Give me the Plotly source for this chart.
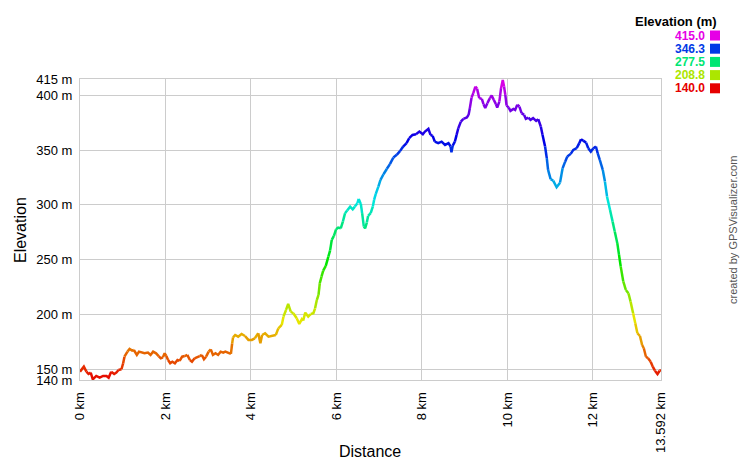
import colorsys
import plotly.graph_objects as go

# ---- data ----
dist_km = [0.00, 0.09, 0.15, 0.20, 0.25, 0.30, 0.38, 0.46, 0.54, 0.62, 0.67, 0.73, 0.80, 0.85, 0.90,
           0.97, 1.01, 1.04, 1.11, 1.16, 1.22, 1.26, 1.33, 1.38, 1.45, 1.51, 1.59, 1.65, 1.71, 1.78,
           1.84, 1.89, 1.94, 1.98, 2.02, 2.06, 2.11, 2.16, 2.22, 2.28, 2.33, 2.39, 2.45, 2.51, 2.57,
           2.62, 2.68, 2.74, 2.80, 2.85, 2.90, 2.95, 3.01, 3.06, 3.11, 3.17, 3.23, 3.29, 3.35, 3.40,
           3.46, 3.53, 3.56, 3.58, 3.63, 3.70, 3.78, 3.86, 3.94, 4.02, 4.09, 4.17, 4.22, 4.26, 4.33,
           4.41, 4.48, 4.58, 4.64, 4.72, 4.76, 4.82, 4.87, 4.93, 4.99, 5.07, 5.13, 5.19, 5.22, 5.27,
           5.34, 5.40, 5.46, 5.50, 5.54, 5.58, 5.61, 5.65, 5.69, 5.75, 5.81, 5.85, 5.89, 5.94, 5.99,
           6.04, 6.10, 6.15, 6.20, 6.25, 6.32, 6.38, 6.43, 6.49, 6.52, 6.57, 6.60, 6.64, 6.67, 6.71,
           6.74, 6.80, 6.85, 6.88, 6.92, 6.98, 7.03, 7.10, 7.18, 7.25, 7.33, 7.41, 7.49, 7.56, 7.64,
           7.70, 7.78, 7.86, 7.94, 8.02, 8.07, 8.15, 8.20, 8.25, 8.30, 8.38, 8.46, 8.54, 8.62, 8.67,
           8.69, 8.72, 8.77, 8.81, 8.85, 8.91, 8.97, 9.05, 9.09, 9.12, 9.16, 9.20, 9.25, 9.29, 9.34,
           9.40, 9.44, 9.48, 9.53, 9.59, 9.63, 9.68, 9.73, 9.76, 9.81, 9.85, 9.89, 9.92, 9.95, 9.98,
           10.03, 10.07, 10.14, 10.18, 10.23, 10.28, 10.33, 10.39, 10.43, 10.49, 10.54, 10.60, 10.67,
           10.72, 10.78, 10.82, 10.88, 10.92, 10.95, 11.01, 11.07, 11.15, 11.23, 11.29, 11.35, 11.40,
           11.48, 11.54, 11.62, 11.68, 11.72, 11.77, 11.84, 11.89, 11.95, 12.01, 12.07, 12.11, 12.16,
           12.23, 12.28, 12.33, 12.40, 12.46, 12.51, 12.57, 12.61, 12.65, 12.71, 12.77, 12.83, 12.88,
           12.94, 12.99, 13.04, 13.10, 13.15, 13.19, 13.24, 13.29, 13.35, 13.40, 13.45, 13.51, 13.56,
           13.592]
elev_m = [147.6, 152.2, 147.6, 145.5, 146.7, 140.6, 143.7, 142.1, 143.7, 143.7, 142.1, 147.6, 145.5, 146.7, 149.1,
          149.8, 155.3, 161.3, 165.9, 168.3, 166.8, 167.4, 162.9, 165.9, 165.0, 164.4, 165.0, 162.9, 165.9, 164.4,
          161.9, 159.8, 160.7, 164.4, 161.9, 158.3, 155.3, 156.7, 155.3, 158.3, 157.4, 161.3, 161.9, 162.9, 158.3,
          156.7, 159.8, 160.7, 161.9, 162.9, 158.9, 161.3, 165.9, 168.0, 162.9, 164.4, 162.9, 165.9, 165.0, 165.9,
          165.0, 163.8, 173.5, 179.0, 181.1, 179.6, 182.0, 180.2, 176.6, 176.6, 178.1, 182.7, 173.5, 181.1, 182.7,
          179.6, 180.2, 181.1, 187.2, 190.3, 197.9, 204.0, 209.5, 202.4, 201.0, 196.4, 191.2, 195.5, 194.2, 201.5,
          197.9, 200.3, 201.0, 205.5, 213.1, 217.7, 228.4, 234.4, 239.9, 244.2, 252.7, 258.2, 268.0, 271.6, 277.7,
          279.2, 278.6, 284.7, 292.4, 294.8, 298.4, 296.0, 298.4, 301.5, 305.4, 300.9, 292.4, 280.2, 278.6, 283.8,
          289.9, 292.4, 298.4, 304.5, 310.0, 316.7, 322.8, 328.0, 333.0, 337.2, 343.2, 345.7, 349.3, 353.3, 356.4,
          360.9, 363.9, 364.6, 367.0, 364.6, 367.0, 369.4, 363.9, 363.0, 357.8, 356.4, 357.8, 354.8, 356.4, 353.3,
          348.1, 354.2, 357.8, 363.9, 370.0, 376.1, 378.6, 379.8, 382.2, 388.4, 398.0, 402.1, 408.1, 406.0, 397.5,
          396.8, 392.0, 388.4, 392.9, 397.5, 399.9, 395.9, 392.0, 388.9, 394.4, 406.6, 414.0, 408.1, 400.5, 390.7,
          388.9, 385.9, 387.7, 386.8, 391.4, 389.8, 383.8, 382.2, 378.6, 379.8, 377.7, 379.2, 376.7,
          378.3, 371.6, 364.0, 353.3, 342.7, 332.0, 323.5, 322.2, 316.1, 320.3, 333.5, 339.5, 344.1,
          346.6, 350.2, 351.8, 356.4, 360.0, 358.7, 356.9, 351.8, 348.7, 351.8, 353.3, 347.2, 341.1,
          332.0, 321.3, 307.5, 295.4, 284.7, 275.6, 265.0, 254.3, 243.6, 229.9, 222.3, 219.3, 211.6,
          201.0, 191.8, 182.7, 180.2, 172.0, 169.0, 161.3, 159.8, 156.7, 152.2, 148.5, 145.5, 148.5,
          149.1]

y_tick_vals = [140, 150, 200, 250, 300, 350, 400, 415]
x_tick_vals = [0, 2, 4, 6, 8, 10, 12, 13.592]
x_tick_text = ["0 km", "2 km", "4 km", "6 km", "8 km", "10 km", "12 km", "13.592 km"]
legend_vals = [415.0, 346.3, 277.5, 208.8, 140.0]
E_MIN, E_MAX = 140.0, 415.0

W, H = 740, 460
PL, PR, PT, PB = 80, 661, 79, 380   # plot-area pixel box


def elev_color(e):
    f = min(1.0, max(0.0, (e - E_MIN) / (E_MAX - E_MIN)))
    r, g, b = colorsys.hsv_to_rgb(f * 300.0 / 360.0, 1.0, 0.9)
    return "rgb(%d,%d,%d)" % (round(r * 255), round(g * 255), round(b * 255))


def px(x):
    return (x - PL) / (PR - PL)


def py(y):
    return (PB - y) / (PB - PT)


fig = go.Figure()

# group consecutive segments that share a quantized colour
levels = 80
n = len(dist_km)
i = 0
while i < n - 1:
    q = round(((elev_m[i] + elev_m[i + 1]) / 2 - E_MIN) / (E_MAX - E_MIN) * levels)
    j = i + 1
    while j < n - 1:
        q2 = round(((elev_m[j] + elev_m[j + 1]) / 2 - E_MIN) / (E_MAX - E_MIN) * levels)
        if q2 != q:
            break
        j += 1
    fig.add_trace(go.Scatter(
        x=dist_km[i:j + 1], y=elev_m[i:j + 1], mode="lines",
        line=dict(color=elev_color(E_MIN + q / levels * (E_MAX - E_MIN)), width=2.5),
        hoverinfo="skip", showlegend=False))
    i = j

grid = "#cccccc"
FONT = "Liberation Sans, Arial"
fig.update_xaxes(range=[0, 13.592], tickvals=x_tick_vals, ticktext=x_tick_text, tickangle=-90,
                 showgrid=True, gridcolor=grid, gridwidth=1, zeroline=False, automargin=False,
                 showline=True, linecolor=grid, mirror=True, ticks="", ticklabelstandoff=6,
                 tickfont=dict(family=FONT, size=13, color="#000"))
fig.update_yaxes(range=[140, 415], tickvals=y_tick_vals, ticktext=["%d m" % v for v in y_tick_vals],
                 showgrid=True, gridcolor=grid, gridwidth=1, zeroline=False, automargin=False,
                 showline=True, linecolor=grid, mirror=True, ticks="", ticklabelstandoff=4,
                 tickfont=dict(family=FONT, size=13, color="#000"))


def ann(text, x, y, size, color="#000", xanchor="center", angle=0):
    return dict(text=text, x=px(x), y=py(y), xref="paper", yref="paper", showarrow=False,
                xanchor=xanchor, yanchor="middle", textangle=angle,
                font=dict(family=FONT, size=size, color=color))


annotations = [
    ann("Distance", 370, 451, 16),
    ann("Elevation", 20, 230, 16, angle=-90),
    ann("created by GPSVisualizer.com", 733, 230, 11, color="#555", angle=-90),
    ann("<b>Elevation (m)</b>", 719, 21, 13, xanchor="right"),
]
shapes = []
for k, v in enumerate(legend_vals):
    yc = 35.5 + k * 13.2
    col = elev_color(v)
    annotations.append(ann("<b>%.1f</b>" % v, 707, yc, 12, color=col, xanchor="right"))
    shapes.append(dict(type="rect", xref="paper", yref="paper",
                       x0=px(710), x1=px(720), y0=py(yc + 5), y1=py(yc - 5),
                       fillcolor=col, line=dict(width=0)))

fig.update_layout(
    width=W, height=H,
    margin=dict(l=PL, r=W - PR, t=PT, b=H - PB, autoexpand=False),
    plot_bgcolor="white", paper_bgcolor="white",
    annotations=annotations, shapes=shapes,
    showlegend=False,
)

fig.write_html("out.html", config={"displayModeBar": False},
               post_script="document.body.style.margin='0';document.body.style.overflow='hidden';")
